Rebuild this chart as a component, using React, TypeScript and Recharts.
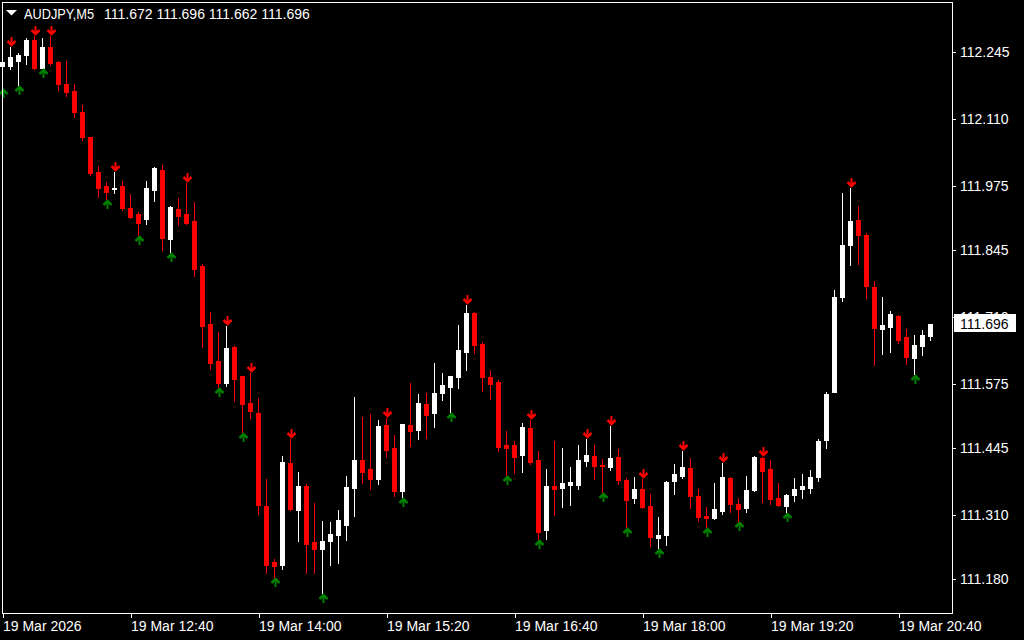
import React from "react";
import { ComposedChart, Bar, Line, XAxis, YAxis } from "recharts";

// AUDJPY M5, 19 Mar 2026, bars 11:20 .. 21:00
const opens = [
  112.217, 112.217, 112.227, 112.239, 112.269, 112.213, 112.255, 112.225, 112.18, 112.166,
  112.124, 112.073, 112.003, 111.974, 111.969, 111.974, 111.93, 111.918, 111.908, 111.966,
  112.007, 111.867, 111.928, 111.918, 111.904, 111.813, 111.695, 111.621, 111.576, 111.649,
  111.59, 111.536, 111.515, 111.328, 111.214, 111.208, 111.414, 111.319, 111.368, 111.255,
  111.241, 111.257, 111.269, 111.289, 111.364, 111.42, 111.402, 111.382, 111.491, 111.445,
  111.358, 111.491, 111.481, 111.534, 111.515, 111.556, 111.568, 111.588, 111.639, 111.718,
  111.655, 111.588, 111.578, 111.451, 111.451, 111.431, 111.485, 111.42, 111.279, 111.368,
  111.364, 111.37, 111.37, 111.418, 111.429, 111.411, 111.406, 111.427, 111.38, 111.344,
  111.362, 111.328, 111.263, 111.269, 111.378, 111.388, 111.404, 111.348, 111.307, 111.303,
  111.317, 111.384, 111.332, 111.323, 111.36, 111.425, 111.402, 111.344, 111.328, 111.35,
  111.362, 111.364, 111.386, 111.461, 111.558, 111.75, 111.855, 111.906, 111.875, 111.77,
  111.685, 111.689, 111.712, 111.669, 111.627, 111.651, 111.672,
];
const highs = [
  112.229, 112.255, 112.243, 112.273, 112.277, 112.273, 112.277, 112.227, 112.227, 112.18,
  112.138, 112.074, 112.015, 111.982, 112.003, 111.984, 111.958, 111.922, 111.984, 112.013,
  112.017, 111.934, 111.95, 111.98, 111.942, 111.817, 111.72, 111.679, 111.691, 111.65,
  111.591, 111.596, 111.546, 111.382, 111.22, 111.429, 111.463, 111.396, 111.372, 111.334,
  111.297, 111.295, 111.319, 111.388, 111.548, 111.507, 111.513, 111.501, 111.505, 111.471,
  111.494, 111.576, 111.554, 111.556, 111.617, 111.596, 111.591, 111.693, 111.734, 111.72,
  111.659, 111.602, 111.582, 111.479, 111.459, 111.495, 111.501, 111.439, 111.402, 111.459,
  111.445, 111.406, 111.451, 111.463, 111.451, 111.423, 111.489, 111.443, 111.384, 111.386,
  111.382, 111.352, 111.305, 111.378, 111.412, 111.439, 111.425, 111.362, 111.326, 111.374,
  111.414, 111.386, 111.344, 111.388, 111.429, 111.427, 111.42, 111.374, 111.352, 111.384,
  111.392, 111.4, 111.463, 111.558, 111.764, 111.96, 111.97, 111.934, 111.879, 111.782,
  111.75, 111.722, 111.714, 111.685, 111.673, 111.683, 111.696,
];
const lows = [
  112.172, 112.211, 112.178, 112.221, 112.211, 112.212, 112.219, 112.168, 112.156, 112.114,
  112.067, 111.996, 111.952, 111.948, 111.96, 111.926, 111.91, 111.875, 111.897, 111.944,
  111.845, 111.841, 111.895, 111.897, 111.792, 111.649, 111.604, 111.568, 111.57, 111.54,
  111.477, 111.505, 111.311, 111.192, 111.184, 111.2, 111.319, 111.257, 111.192, 111.192,
  111.152, 111.208, 111.212, 111.259, 111.307, 111.374, 111.362, 111.372, 111.427, 111.348,
  111.346, 111.449, 111.463, 111.465, 111.487, 111.542, 111.517, 111.566, 111.602, 111.637,
  111.56, 111.544, 111.439, 111.39, 111.394, 111.396, 111.412, 111.261, 111.261, 111.309,
  111.326, 111.33, 111.362, 111.408, 111.382, 111.356, 111.4, 111.372, 111.285, 111.334,
  111.323, 111.247, 111.243, 111.249, 111.352, 111.384, 111.323, 111.297, 111.285, 111.302,
  111.311, 111.315, 111.297, 111.315, 111.358, 111.336, 111.332, 111.328, 111.315, 111.338,
  111.344, 111.354, 111.378, 111.445, 111.557, 111.742, 111.815, 111.817, 111.748, 111.613,
  111.635, 111.639, 111.657, 111.615, 111.594, 111.633, 111.662,
];
const closes = [
  112.225, 112.235, 112.239, 112.269, 112.213, 112.255, 112.223, 112.18, 112.164, 112.124,
  112.073, 112.001, 111.97, 111.962, 111.97, 111.93, 111.912, 111.9, 111.97, 112.011,
  111.869, 111.932, 111.914, 111.9, 111.807, 111.691, 111.617, 111.576, 111.647, 111.584,
  111.534, 111.519, 111.33, 111.208, 111.206, 111.416, 111.321, 111.368, 111.251, 111.241,
  111.257, 111.271, 111.299, 111.366, 111.42, 111.396, 111.382, 111.489, 111.441, 111.358,
  111.493, 111.479, 111.536, 111.511, 111.556, 111.572, 111.59, 111.643, 111.718, 111.653,
  111.588, 111.574, 111.447, 111.445, 111.427, 111.487, 111.416, 111.275, 111.368, 111.362,
  111.374, 111.376, 111.42, 111.431, 111.408, 111.409, 111.425, 111.38, 111.34, 111.362,
  111.326, 111.265, 111.269, 111.376, 111.392, 111.406, 111.348, 111.305, 111.303, 111.321,
  111.386, 111.332, 111.321, 111.36, 111.427, 111.398, 111.342, 111.33, 111.35, 111.362,
  111.368, 111.386, 111.459, 111.554, 111.75, 111.855, 111.904, 111.875, 111.772, 111.687,
  111.693, 111.716, 111.663, 111.629, 111.653, 111.673, 111.696,
];

// fractal marks (bar indexes)
const fractalUp = [1, 4, 6, 14, 23, 28, 31, 36, 48, 58, 66, 73, 76, 80, 85, 90, 95, 106];
const fractalDown = [0, 2, 5, 13, 17, 21, 27, 30, 34, 40, 50, 56, 63, 67, 75, 78, 82, 88, 92, 98, 114];

const priceTicks = [112.245, 112.11, 111.975, 111.845, 111.71, 111.575, 111.445, 111.31, 111.18];
const timeTicks = ["11:20", "12:40", "14:00", "15:20", "16:40", "18:00", "19:20", "20:40"];
const timeLabels = [
  "19 Mar 2026", "19 Mar 12:40", "19 Mar 14:00", "19 Mar 15:20",
  "19 Mar 16:40", "19 Mar 18:00", "19 Mar 19:20", "19 Mar 20:40",
];
const symbol = "AUDJPY,M5";
const lastBar = { open: 111.672, high: 111.696, low: 111.662, close: 111.696 };

const FONT = '"Liberation Sans", Arial, sans-serif';
const RED = "#ff0000";
const GREEN = "#008000";
const SHIFT_BARS = 2; // empty space at the right edge

function barTime(i: number) {
  const m = 11 * 60 + 20 + 5 * i;
  return `${String(Math.floor(m / 60)).padStart(2, "0")}:${String(m % 60).padStart(2, "0")}`;
}

const rows = [
  ...opens.map((o, i) => ({
    t: barTime(i),
    open: o,
    high: highs[i],
    low: lows[i],
    close: closes[i],
    range: [lows[i], highs[i]],
    fracUp: fractalUp.includes(i) ? highs[i] : null,
    fracDown: fractalDown.includes(i) ? lows[i] : null,
  })),
  ...Array.from({ length: SHIFT_BARS }, (_, k) => ({
    t: barTime(opens.length + k),
    open: null, high: null, low: null, close: null, range: null, fracUp: null, fracDown: null,
  })),
];

function Candle(props: any) {
  const { x, y, width, height, payload } = props;
  if (!payload || payload.high == null) return <g />;
  const top = Math.min(y, y + height);
  const bot = Math.max(y, y + height);
  const span = payload.high - payload.low;
  const py = (v: number) => (span > 0 ? top + ((payload.high - v) / span) * (bot - top) : top);
  const col = Math.floor(x + width / 2);
  const bull = payload.close >= payload.open;
  const color = bull ? "#ffffff" : RED;
  const wTop = Math.round(top);
  const wBot = Math.round(bot);
  const bTop = Math.round(py(Math.max(payload.open, payload.close)));
  const bBot = Math.round(py(Math.min(payload.open, payload.close)));
  return (
    <g shapeRendering="crispEdges">
      <rect x={col} y={wTop} width={1} height={Math.max(1, wBot - wTop + 1)} fill={color} />
      <rect x={col - 2} y={bTop} width={5} height={Math.max(1, bBot - bTop + 1)} fill={color} />
    </g>
  );
}

// arrow pointing down, tip just above the bar's high
function DownArrow(props: any) {
  const { cx, cy, value, index } = props;
  if (value == null || cy == null || isNaN(cy)) return <g key={`u${index}`} />;
  const c = Math.floor(cx) + 0.5;
  const tip = Math.round(cy) - 1;
  return (
    <g key={`u${index}`} fill="none" stroke={RED}>
      <path d={`M${c},${tip - 9} V${tip - 1}`} strokeWidth={2} />
      <path d={`M${c - 4},${tip - 5} L${c},${tip - 1} L${c + 4},${tip - 5}`} strokeWidth={2.5} />
    </g>
  );
}

// arrow pointing up, tip just below the bar's low
function UpArrow(props: any) {
  const { cx, cy, value, index } = props;
  if (value == null || cy == null || isNaN(cy)) return <g key={`d${index}`} />;
  const c = Math.floor(cx) + 0.5;
  const tip = Math.round(cy) + 1;
  return (
    <g key={`d${index}`} fill="none" stroke={GREEN}>
      <path d={`M${c},${tip + 9} V${tip + 1}`} strokeWidth={2} />
      <path d={`M${c - 4},${tip + 5} L${c},${tip + 1} L${c + 4},${tip + 5}`} strokeWidth={2.5} />
    </g>
  );
}

function TimeTick(props: any) {
  const { x, payload } = props;
  const k = timeTicks.indexOf(payload.value);
  const col = Math.floor(x) + 0.5;
  return (
    <g>
      <line x1={col} x2={col} y1={614} y2={618} stroke="#fff" strokeWidth={1} />
      <text x={Math.floor(x)} y={631} fill="#fff" fontSize={14} fontFamily={FONT}>
        {timeLabels[k]}
      </text>
    </g>
  );
}

function PriceTick(props: any) {
  const { y, payload } = props;
  const v = payload.value;
  if (v === lastBar.close) {
    return (
      <g>
        <rect x={954} y={Math.round(y) - 10} width={62} height={18} fill="#fff" />
        <text x={960} y={y + 5} fill="#000" fontSize={14} fontFamily={FONT}>
          {v.toFixed(3)}
        </text>
      </g>
    );
  }
  const r = Math.round(y) + 0.5;
  return (
    <g>
      <line x1={953} x2={956} y1={r} y2={r} stroke="#fff" strokeWidth={1} />
      <text x={960} y={y + 5} fill="#fff" fontSize={14} fontFamily={FONT}>
        {v.toFixed(3)}
      </text>
    </g>
  );
}

export default function App() {
  return (
    <div style={{ position: "fixed", left: 0, top: 0, width: 1024, height: 640, background: "#000", overflow: "hidden" }}>
      <ComposedChart width={1024} height={640} data={rows} margin={{ top: 2, right: 0, bottom: 0, left: -1 }}>
        <XAxis
          dataKey="t"
          type="category"
          ticks={timeTicks}
          interval={0}
          height={27}
          axisLine={false}
          tickLine={false}
          tick={<TimeTick />}
        />
        <YAxis
          orientation="right"
          width={73}
          type="number"
          domain={[111.1113, 112.346]}
          allowDataOverflow
          ticks={[...priceTicks, lastBar.close]}
          interval={0}
          axisLine={false}
          tickLine={false}
          tick={<PriceTick />}
        />
        <Bar dataKey="range" shape={<Candle />} isAnimationActive={false} />
        <Line dataKey="fracUp" stroke="none" dot={<DownArrow />} activeDot={false} isAnimationActive={false} />
        <Line dataKey="fracDown" stroke="none" dot={<UpArrow />} activeDot={false} isAnimationActive={false} />
      </ComposedChart>
      <svg width={1024} height={640} style={{ position: "absolute", left: 0, top: 0, pointerEvents: "none" }}>
        <rect x={2.5} y={2.5} width={950} height={611} fill="none" stroke="#fff" strokeWidth={1} />
        <polygon points="6,10 17,10 11.5,15.5" fill="#fff" />
        <text x={24} y={19} fill="#fff" fontSize={14} fontFamily={FONT} textLength={70} lengthAdjust="spacingAndGlyphs">
          {symbol}
        </text>
        <text x={104} y={19} fill="#fff" fontSize={14} fontFamily={FONT}>
          {[lastBar.open, lastBar.high, lastBar.low, lastBar.close].map((v) => v.toFixed(3)).join(" ")}
        </text>
      </svg>
    </div>
  );
}
